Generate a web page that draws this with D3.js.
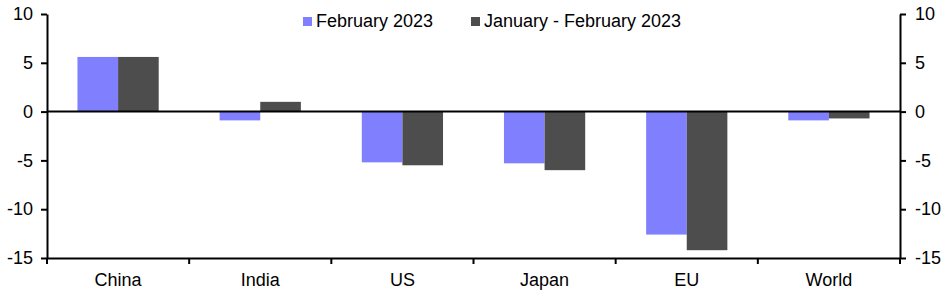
<!DOCTYPE html>
<html>
<head>
<meta charset="utf-8">
<script src="https://cdn.jsdelivr.net/npm/d3@7"></script>
<style>
  body { margin: 0; background: #fff; }
  svg text { font-family: "Liberation Sans", Arial, sans-serif; }
</style>
</head>
<body>
<div id="chart"></div>
<script>
// data
const categories = ["China", "India", "US", "Japan", "EU", "World"];
const seriesNames = ["February 2023", "January - February 2023"];
const feb2023 = [5.6, -0.9, -5.2, -5.3, -12.6, -0.9];
const janFeb2023 = [5.6, 1.0, -5.5, -6.0, -14.2, -0.7];
const yTicks = [10, 5, 0, -5, -10, -15];
const colors = ["#8080FF", "#4D4D4D"];

const WIDTH = 946, HEIGHT = 295;
const MARGINS = {left: 47, right: 46, top: 14, bottom: 37};
const FONT_SIZE = 18;

const svg = d3.select("#chart").append("svg")
    .attr("width", WIDTH)
    .attr("height", HEIGHT);

const x = d3.scaleBand()
    .domain(categories)
    .range([MARGINS.left, WIDTH - MARGINS.right])
    .paddingInner(0).paddingOuter(0);

const xInner = d3.scaleBand()
    .domain([0, 1])
    .range([0, x.bandwidth()])
    .paddingOuter(0.75).paddingInner(0);

const y = d3.scaleLinear()
    .domain([-15, 10])
    .range([HEIGHT - MARGINS.bottom, MARGINS.top]);

const series = [feb2023, janFeb2023];

// bars
series.forEach((vals, s) => {
    svg.append("g")
        .selectAll("rect")
        .data(vals)
        .enter()
        .append("rect")
        .attr("x", (d, i) => x(categories[i]) + xInner(s))
        .attr("width", xInner.bandwidth())
        .attr("y", d => y(Math.max(0, d)))
        .attr("height", d => Math.abs(y(d) - y(0)))
        .attr("fill", colors[s]);
});

// zero line
svg.append("line")
    .attr("x1", MARGINS.left).attr("x2", WIDTH - MARGINS.right)
    .attr("y1", y(0)).attr("y2", y(0))
    .attr("stroke", "black").attr("stroke-width", 2);

const fmt = d => String(d); // plain hyphen, like the original

// left axis
const leftAxis = svg.append("g")
    .attr("transform", `translate(${MARGINS.left},0)`)
    .call(d3.axisLeft(y).tickValues(yTicks).tickFormat(fmt)
        .tickSize(6).tickPadding(8).tickSizeOuter(0));

// right axis
const rightAxis = svg.append("g")
    .attr("transform", `translate(${WIDTH - MARGINS.right},0)`)
    .call(d3.axisRight(y).tickValues(yTicks).tickFormat(fmt)
        .tickSize(6).tickPadding(9).tickSizeOuter(0));

// bottom axis (at -15)
const bottomAxis = svg.append("g")
    .attr("transform", `translate(0,${y(-15)})`)
    .call(d3.axisBottom(x).tickSize(0).tickPadding(15).tickSizeOuter(0));

bottomAxis.selectAll(".tick")
    .filter((d, i) => i > 0)
    .append("line")
    .attr("x1", -x.bandwidth() / 2).attr("x2", -x.bandwidth() / 2)
    .attr("y1", 0).attr("y2", 6)
    .attr("stroke", "black").attr("stroke-width", 2);

bottomAxis.append("line")
    .attr("x1", MARGINS.left).attr("x2", MARGINS.left)
    .attr("y1", 0).attr("y2", 6)
    .attr("stroke", "black").attr("stroke-width", 2);
bottomAxis.append("line")
    .attr("x1", WIDTH - MARGINS.right).attr("x2", WIDTH - MARGINS.right)
    .attr("y1", 0).attr("y2", 6)
    .attr("stroke", "black").attr("stroke-width", 2);

[leftAxis, rightAxis, bottomAxis].forEach(g => {
    g.select(".domain").attr("stroke", "black").attr("stroke-width", 2);
    g.selectAll(".tick line").attr("stroke", "black").attr("stroke-width", 2);
    g.selectAll(".tick text")
        .attr("fill", "black")
        .attr("font-size", FONT_SIZE)
        .attr("font-family", "Liberation Sans, Arial, sans-serif");
});

// legend
const legendX = [303, 471];
seriesNames.forEach((name, s) => {
    svg.append("rect")
        .attr("x", legendX[s]).attr("y", 17)
        .attr("width", 9).attr("height", 9)
        .attr("fill", colors[s]);
    svg.append("text")
        .attr("x", legendX[s] + 13).attr("y", 27)
        .attr("font-size", FONT_SIZE)
        .attr("fill", "black")
        .text(name);
});
</script>
</body>
</html>
